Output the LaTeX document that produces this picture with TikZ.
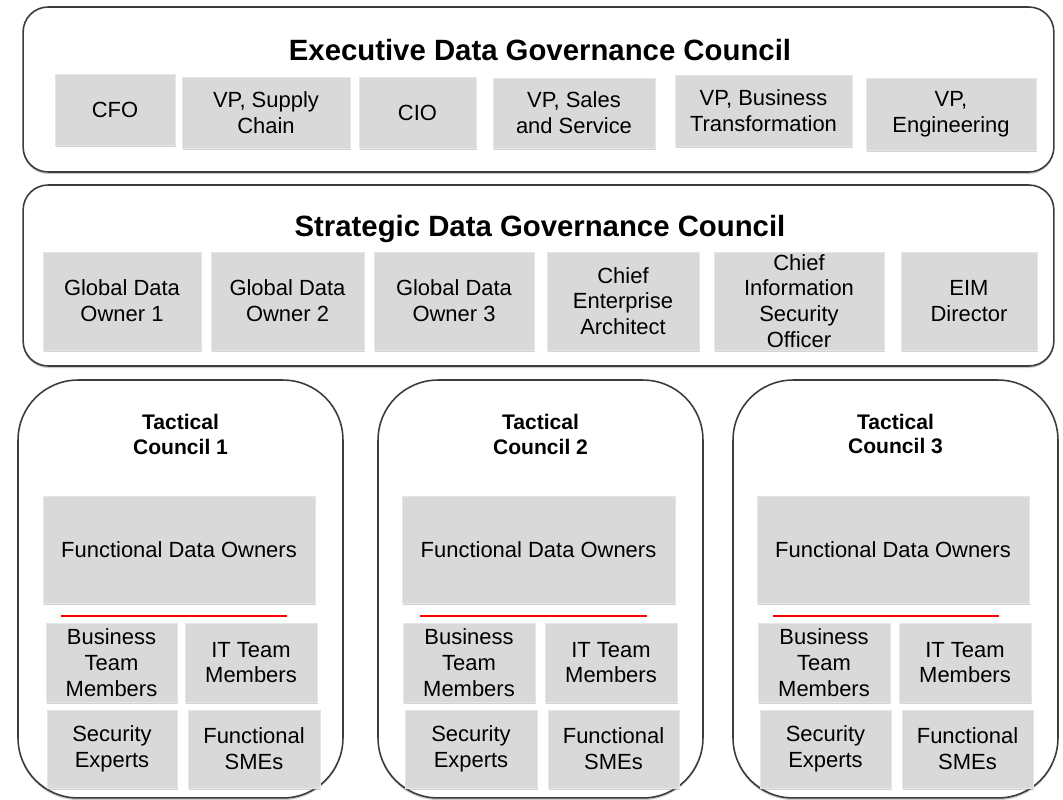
\documentclass[tikz,border=0pt]{standalone}
\usepackage{fontspec}
\setmainfont{Liberation Sans}
\usetikzlibrary{shadows}

\definecolor{rolefill}{RGB}{217,217,217}
\definecolor{frameline}{RGB}{60,60,60}

\tikzset{
  council/.style={draw=frameline, line width=0.9pt, rounded corners=0.5cm, fill=white,
    drop shadow={shadow xshift=0pt, shadow yshift=-1.2pt, opacity=0.4}},
  tactical/.style={council, rounded corners=1.2cm, minimum width=6.5cm, minimum height=8.36cm},
  role/.style={fill=rolefill, draw=white!90!black, line width=0.5pt, align=center, inner sep=0pt,
    font=\fontsize{12.5}{14.7}\selectfont,
    drop shadow={shadow xshift=0.6pt, shadow yshift=-1pt, opacity=0.35}},
  heading/.style={font=\fontsize{16.7}{20}\selectfont\bfseries},
  subheading/.style={align=center, font=\fontsize{12}{14.2}\selectfont\bfseries},
  divider/.style={red, line width=0.7pt}
}

\begin{document}
\begin{tikzpicture}[x=0.02cm, y=-0.02cm]
                \useasboundingbox (0,0) rectangle (1063,800);
                \node[council, minimum width=20.62cm, minimum height=3.3cm] (exec) at (538.5,89.5) {};
                \node[heading] (exectitle) at (540,50) {Executive Data Governance Council};
                \node[role, minimum width=2.4cm, minimum height=1.42cm] (cfo) at (115,109.5) {CFO};
                \node[role, minimum width=3.36cm, minimum height=1.42cm] (vpsc) at (266,112.5) {VP, Supply\\Chain};
                \node[role, minimum width=2.34cm, minimum height=1.42cm] (cio) at (417.5,112.5) {CIO};
                \node[role, minimum width=3.24cm, minimum height=1.4cm] (vpss) at (574,113) {VP, Sales\\and Service};
                \node[role, minimum width=3.54cm, minimum height=1.42cm] (vpbt) at (763.5,110.5) {VP, Business\\Transformation};
                \node[role, minimum width=3.4cm, minimum height=1.44cm] (vpe) at (951,114) {VP,\\Engineering};

                \node[council, minimum width=20.62cm, minimum height=3.62cm] (strat) at (538.5,275.5) {};
                \node[heading] (strattitle) at (540,229) {Strategic Data Governance Council};
                \node[role, minimum width=3.16cm, minimum height=1.96cm] (gdo1) at (122,301) {Global Data\\Owner 1};
                \node[role, minimum width=3.06cm, minimum height=1.96cm] (gdo2) at (287.5,301) {Global Data\\Owner 2};
                \node[role, minimum width=3.2cm, minimum height=1.96cm] (gdo3) at (454,301) {Global Data\\Owner 3};
                \node[role, minimum width=3.04cm, minimum height=1.96cm] (cea) at (623,301) {Chief\\Enterprise\\Architect};
                \node[role, minimum width=3.4cm, minimum height=1.96cm] (ciso) at (799,301) {Chief\\Information\\Security\\Officer};
                \node[role, minimum width=2.72cm, minimum height=1.96cm] (eim) at (969,301) {EIM\\Director};

                \node[tactical] (tac1) at (180.5,589) {};
                \node[subheading] (tac1title) at (180.5,434) {Tactical\\Council 1};
                \node[role, minimum width=5.44cm, minimum height=2.14cm] (t1fdo) at (179,549.5) {Functional Data Owners};
                \draw[divider] (61,616) -- (287,616);
                \node[role, minimum width=2.62cm, minimum height=1.58cm] (t1btm) at (111.5,662.5) {Business\\Team\\Members};
                \node[role, minimum width=2.64cm, minimum height=1.58cm] (t1itm) at (251,662.5) {IT Team\\Members};
                \node[role, minimum width=2.6cm, minimum height=1.56cm] (t1se) at (112,749) {Security\\Experts};
                \node[role, minimum width=2.64cm, minimum height=1.56cm] (t1sme) at (254,749) {Functional\\SMEs};

                \node[tactical] (tac2) at (540.5,589) {};
                \node[subheading] (tac2title) at (540.5,434) {Tactical\\Council 2};
                \node[role, minimum width=5.46cm, minimum height=2.14cm] (t2fdo) at (538.5,549.5) {Functional Data Owners};
                \draw[divider] (420,616) -- (647,616);
                \node[role, minimum width=2.64cm, minimum height=1.58cm] (t2btm) at (469,662.5) {Business\\Team\\Members};
                \node[role, minimum width=2.64cm, minimum height=1.58cm] (t2itm) at (611,662.5) {IT Team\\Members};
                \node[role, minimum width=2.64cm, minimum height=1.56cm] (t2se) at (471,749) {Security\\Experts};
                \node[role, minimum width=2.62cm, minimum height=1.56cm] (t2sme) at (613.5,749) {Functional\\SMEs};

                \node[tactical] (tac3) at (895.5,589) {};
                \node[subheading] (tac3title) at (895.5,434) {Tactical\\Council 3};
                \node[role, minimum width=5.44cm, minimum height=2.14cm] (t3fdo) at (893,549.5) {Functional Data Owners};
                \draw[divider] (773,616) -- (999,616);
                \node[role, minimum width=2.64cm, minimum height=1.58cm] (t3btm) at (824,662.5) {Business\\Team\\Members};
                \node[role, minimum width=2.64cm, minimum height=1.58cm] (t3itm) at (965,662.5) {IT Team\\Members};
                \node[role, minimum width=2.62cm, minimum height=1.56cm] (t3se) at (825.5,749) {Security\\Experts};
                \node[role, minimum width=2.62cm, minimum height=1.56cm] (t3sme) at (967.5,749) {Functional\\SMEs};
\end{tikzpicture}
\end{document}
